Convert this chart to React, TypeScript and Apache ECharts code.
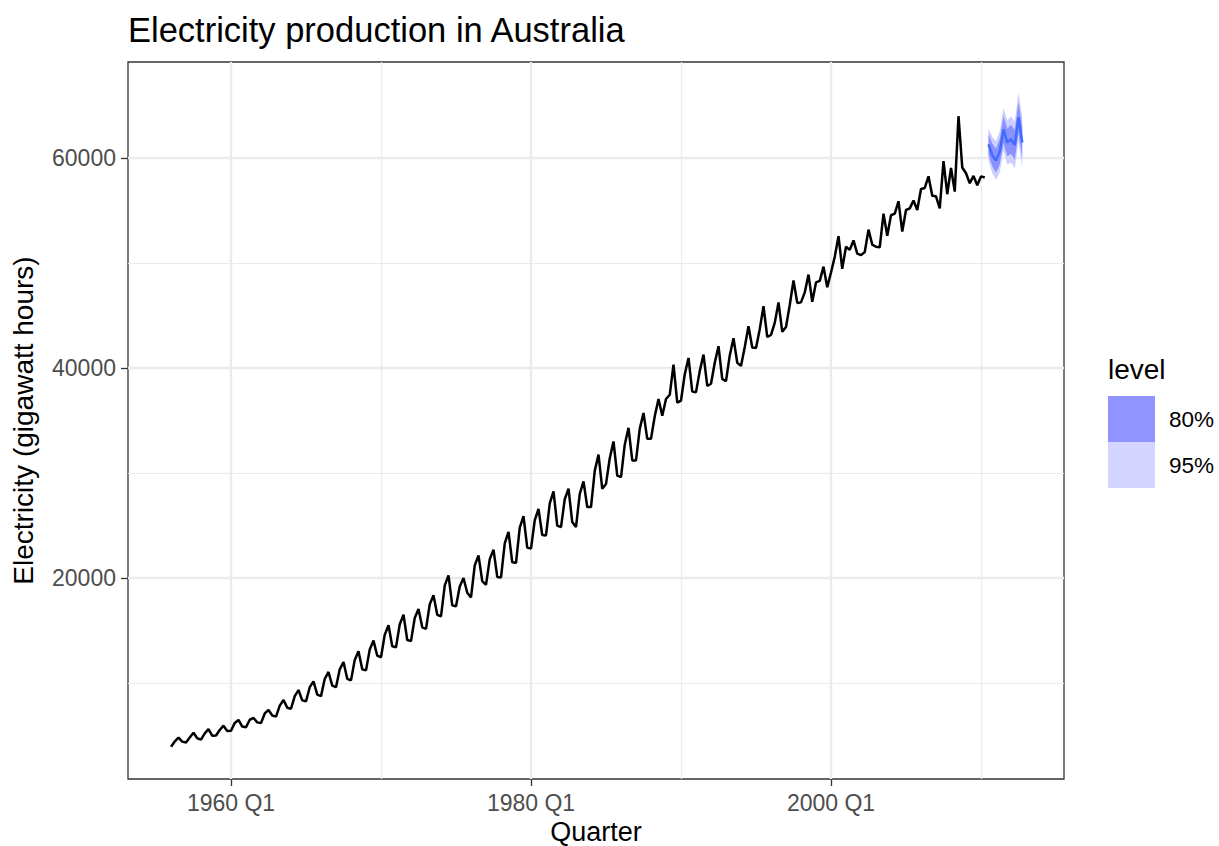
import React, { useEffect, useRef } from "react";
import * as echarts from "echarts";

// Quarterly electricity production (GWh), 1956 Q1 .. 2010 Q2
const START_YEAR = 1956;
const electricity = [
  3923, 4436, 4806, 4418,
  4339, 4811, 5259, 4735,
  4608, 5196, 5609, 4977,
  5003, 5518, 5938, 5438,
  5450, 6200, 6480, 5850,
  5780, 6500, 6670, 6250,
  6180, 7100, 7430, 6900,
  6800, 7850, 8380, 7650,
  7550, 8750, 9330, 8350,
  8250, 9600, 10160, 8900,
  8750, 10400, 11050, 9750,
  9600, 11300, 12000, 10400,
  10250, 12200, 13020, 11300,
  11200, 13200, 14040, 12600,
  12450, 14600, 15500, 13500,
  13400, 15600, 16500, 14100,
  14000, 16200, 17050, 15300,
  15150, 17500, 18350, 16500,
  16350, 19300, 20250, 17400,
  17300, 19200, 20000, 18600,
  18150, 21200, 22150, 19700,
  19350, 21800, 22700, 20100,
  20050, 23300, 24400, 21500,
  21450, 24800, 25880, 22900,
  22800, 25500, 26570, 24100,
  24050, 27100, 28260, 25000,
  24850, 27500, 28500, 25330,
  24850, 28000, 29200, 26750,
  26750, 30200, 31750, 28500,
  28950, 31400, 33000, 29750,
  29600, 32700, 34300, 31200,
  31200, 34200, 35720, 33250,
  33250, 35400, 37050, 35450,
  37050, 37450, 40330, 36700,
  36900, 39400, 40960, 37750,
  37700, 39700, 41280, 38300,
  38500, 40500, 42070, 38950,
  38750, 41200, 42830, 40500,
  40200, 42000, 43980, 41950,
  41900, 43700, 45880, 42950,
  43150, 44300, 46250, 43450,
  43900, 46000, 48330, 46200,
  46250, 47200, 48900, 46300,
  48150, 48300, 49650, 47700,
  49100, 50600, 52550, 49450,
  51550, 51250, 52150, 50900,
  50750, 51050, 53180, 51750,
  51550, 51500, 54700, 52600,
  54550, 54700, 55880, 53000,
  55050, 55200, 55950, 55050,
  57050, 57150, 58260, 56400,
  56350, 55200, 59700, 56550,
  59050, 56800, 63980, 59100,
  58550, 57600, 58300, 57400,
  58250, 58150,
];

// Forecast 2010 Q3 .. 2012 Q4
const FC_START = 2010.5;
const fcMean = [61300, 60290, 59750, 60600, 62730, 61480, 61780, 61240, 63880, 61480];
const lo80 = [60320, 59210, 58605, 59390, 61455, 60170, 60405, 59835, 62410, 59975];
const hi80 = [62280, 61370, 60895, 61810, 64005, 62790, 63155, 62645, 65350, 62985];
const lo95 = [59750, 58550, 57900, 58650, 60680, 59380, 59580, 58990, 61530, 59080];
const hi95 = [62850, 62030, 61600, 62550, 64780, 63580, 63980, 63490, 66230, 63880];

const xTickYears = [1960, 1980, 2000];
const xMinorYears = [1970, 1990, 2010];
const yTicks = [20000, 40000, 60000];
const yMinor = [10000, 30000, 50000];
const legendLevels = ["80%", "95%"];
const levelColors = ["#8F94FF", "#D3D4FF"];
const band95Color = "#CDD0FF";
const band80Color = "#8A92FF";

const FONT = '"Liberation Sans", Arial, Helvetica, sans-serif';

export default function App() {
  const ref = useRef<HTMLDivElement>(null);

  useEffect(() => {
    if (!ref.current) return;
    const chart = echarts.init(ref.current, null, { renderer: "svg" });

    const histData = electricity.map((v, i) => [START_YEAR + i / 4, v]);
    const fcX = fcMean.map((_, i) => FC_START + i / 4);
    const meanData = fcMean.map((v, i) => [fcX[i], v]);
    const band95 = fcX.map((x, i) => [x, lo95[i], hi95[i]]);
    const band80 = fcX.map((x, i) => [x, lo80[i], hi80[i]]);

    const bandRender = (lo: number[], hi: number[], color: string) =>
      (params: any, api: any) => {
        if (params.dataIndex !== 0) return null;
        const upper = fcX.map((x, i) => api.coord([x, hi[i]]));
        const lower = fcX.map((x, i) => api.coord([x, lo[i]])).reverse();
        return {
          type: "polygon",
          shape: { points: upper.concat(lower) },
          style: { fill: color, stroke: "none" },
        };
      };

    const major = { color: "#EBEBEB", width: 2.4, type: "solid" };
    const minor = { color: "#EBEBEB", width: 1.2, type: "solid" };
    const gridLines = [
      ...xTickYears.map((x) => ({ xAxis: x, lineStyle: major })),
      ...xMinorYears.map((x) => ({ xAxis: x, lineStyle: minor })),
      ...yTicks.map((y) => ({ yAxis: y, lineStyle: major })),
      ...yMinor.map((y) => ({ yAxis: y, lineStyle: minor })),
    ];

    const legendGraphics: any[] = [
      {
        type: "text",
        x: 1108,
        y: 369,
        style: { text: "level", fontSize: 28, fontFamily: FONT, fill: "#000", verticalAlign: "middle" },
      },
    ];
    legendLevels.forEach((lab, i) => {
      legendGraphics.push({
        type: "rect",
        shape: { x: 1108, y: 396 + i * 46, width: 47, height: 46 },
        style: { fill: levelColors[i] },
      });
      legendGraphics.push({
        type: "text",
        x: 1169,
        y: 419 + i * 46,
        style: { text: lab, fontSize: 22.5, fontFamily: FONT, fill: "#000", verticalAlign: "middle" },
      });
    });

    chart.setOption({
      animation: false,
      backgroundColor: "#fff",
      title: {
        text: "Electricity production in Australia",
        left: 128,
        top: 12,
        padding: 0,
        textStyle: { fontSize: 34.5, fontWeight: "normal", color: "#000", fontFamily: FONT },
      },
      grid: {
        left: 128,
        top: 62,
        width: 936,
        height: 717,
        containLabel: false,
        outerBoundsMode: "none",
        show: true,
        borderColor: "#333333",
        borderWidth: 1.3,
        backgroundColor: "transparent",
      },
      xAxis: {
        type: "value",
        min: 1953.1333,
        max: 2015.5333,
        name: "Quarter",
        nameLocation: "middle",
        nameGap: 38,
        nameTextStyle: { fontSize: 27, color: "#000", fontFamily: FONT },
        axisLine: { show: false },
        splitLine: { show: false },
        axisTick: {
          show: true,
          length: 7,
          customValues: xTickYears,
          lineStyle: { color: "#333333", width: 1.3 },
        },
        axisLabel: {
          customValues: xTickYears,
          margin: 12,
          fontSize: 23,
          color: "#4D4D4D",
          fontFamily: FONT,
          formatter: (v: number) => `${v} Q1`,
        },
      },
      yAxis: {
        type: "value",
        min: 857,
        max: 69143,
        name: "Electricity (gigawatt hours)",
        nameLocation: "middle",
        nameGap: 91,
        nameTextStyle: { fontSize: 28, color: "#000", fontFamily: FONT },
        axisLine: { show: false },
        splitLine: { show: false },
        axisTick: {
          show: true,
          length: 7,
          customValues: yTicks,
          lineStyle: { color: "#333333", width: 1.3 },
        },
        axisLabel: {
          customValues: yTicks,
          margin: 12,
          fontSize: 23,
          color: "#4D4D4D",
          fontFamily: FONT,
          formatter: (v: number) => String(v),
        },
      },
      series: [
        {
          name: "grid",
          type: "line",
          data: [[1960, 20000]],
          symbol: "none",
          lineStyle: { opacity: 0 },
          silent: true,
          z: 1,
          markLine: {
            z: 1,
            silent: true,
            symbol: ["none", "none"],
            label: { show: false },
            data: gridLines,
            animation: false,
          },
        },
        {
          name: "95%",
          type: "custom",
          data: band95,
          encode: { x: 0, y: [1, 2] },
          renderItem: bandRender(lo95, hi95, band95Color),
          silent: true,
          z: 6,
        },
        {
          name: "80%",
          type: "custom",
          data: band80,
          encode: { x: 0, y: [1, 2] },
          renderItem: bandRender(lo80, hi80, band80Color),
          silent: true,
          z: 7,
        },
        {
          name: "Electricity",
          type: "line",
          data: histData,
          symbol: "none",
          lineStyle: { color: "#000", width: 2.5 },
          z: 10,
        },
        {
          name: "Forecast",
          type: "line",
          data: meanData,
          symbol: "none",
          lineStyle: { color: "#3F6CFF", width: 2.5 },
          z: 11,
        },
      ],
      graphic: legendGraphics,
    });

    return () => chart.dispose();
  }, []);

  return (
    <div
      ref={ref}
      style={{ position: "fixed", left: 0, top: 0, width: 1219, height: 846 }}
    />
  );
}
